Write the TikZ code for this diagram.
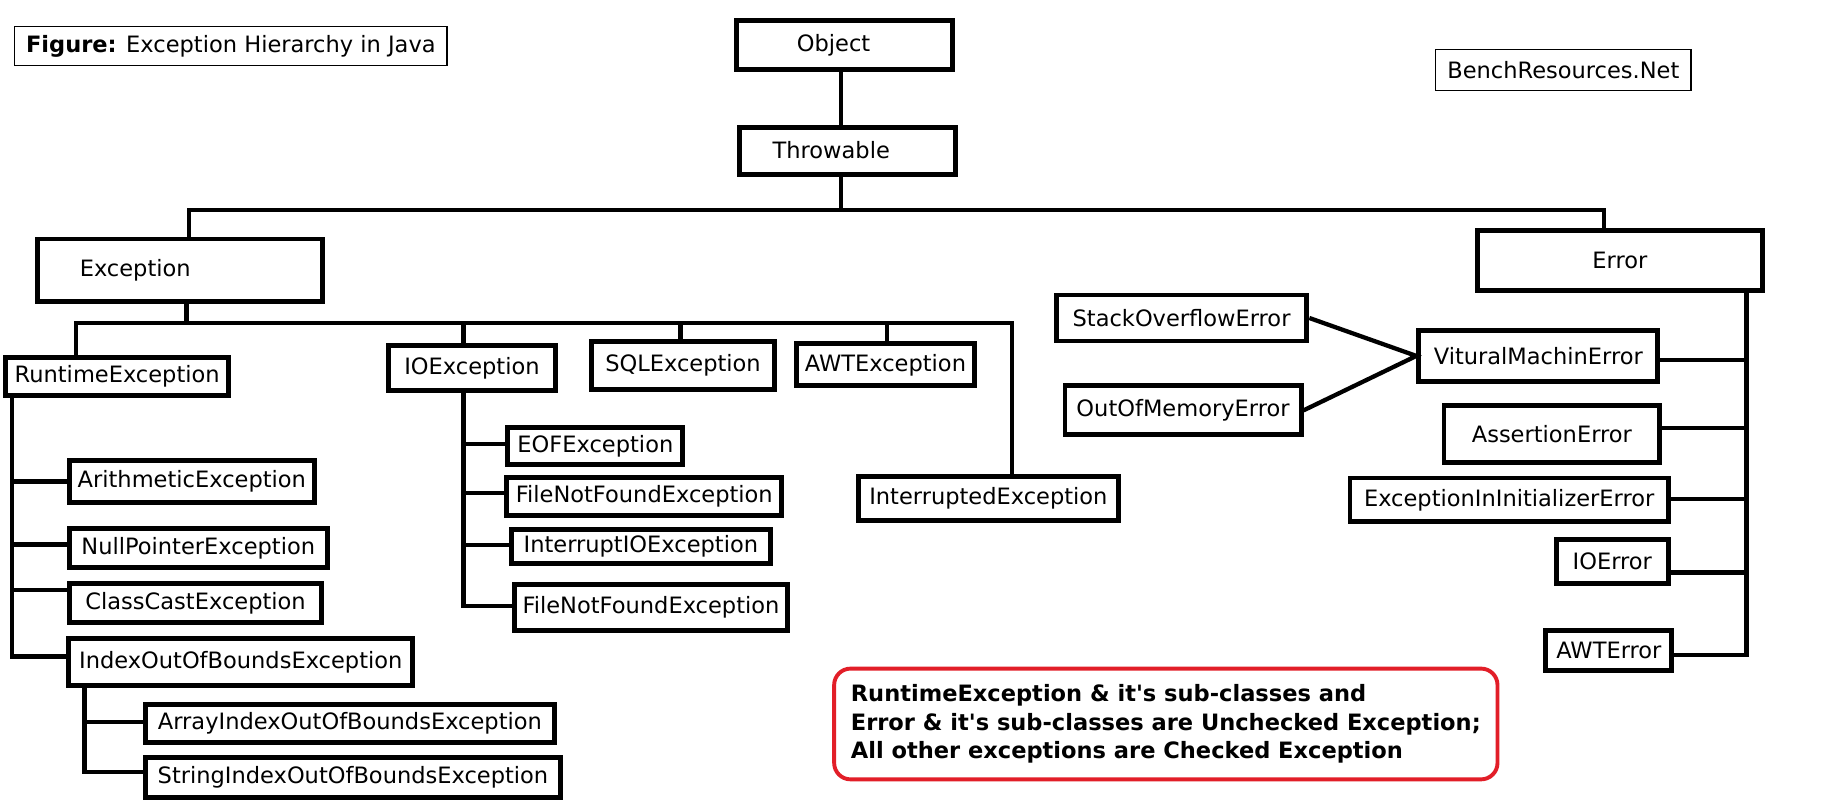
\documentclass[tikz,border=0pt]{standalone}
\usepackage{fontspec}
\setmainfont{DejaVu Sans}
\definecolor{noteRed}{RGB}{226,30,40}
\tikzset{
  box/.style={draw, line width=2.4pt, inner sep=0pt, font=\fontsize{11}{13}\selectfont},
  thinbox/.style={draw, line width=0.6pt, inner sep=0pt, font=\fontsize{11}{13}\selectfont},
  lbl/.style={inner sep=0pt, font=\fontsize{11}{13}\selectfont},
  conn/.style={line width=2.1pt},
  notebox/.style={draw=noteRed, line width=1.9pt, rounded corners=8pt, inner sep=0pt, align=left,
    font=\fontsize{11}{13.9}\selectfont\bfseries},
}
% name, x1, y1, x2, y2, text  (outer edges, image units)
\newcommand\bx[6]{\node[box, minimum width={(#4-#2-4)*0.02cm}, minimum height={(#5-#3-4)*0.02cm}] (#1) at ({(#2+#4)/2},{(#3+#5)/2}) {#6};}
\newcommand\tbx[6]{\node[thinbox, minimum width={(#4-#2-1)*0.02cm}, minimum height={(#5-#3-1)*0.02cm}] (#1) at ({(#2+#4)/2},{(#3+#5)/2}) {#6};}
\begin{document}
\begin{tikzpicture}[x=0.02cm, y=-0.02cm]
\fill[white] (0,0) rectangle (1568,687);
\useasboundingbox (0,0) rectangle (1568,687);

% captions
\tbx{fig}{12}{22}{384}{57}{\textbf{Figure:} Exception Hierarchy in Java}
\tbx{site}{1231}{42}{1451}{78}{BenchResources.Net}

% top
\bx{obj}{630}{15.7}{819}{61.5}{}
\node[lbl] (objT) at (715,39) {Object};
\bx{thr}{632.7}{107}{821.5}{151.6}{}
\node[lbl] (thrT) at (713,129) {Throwable};
\bx{exc}{30}{203}{279}{261}{}
\node[lbl] (excT) at (116,232) {Exception};
\bx{err}{1265}{195.5}{1514}{251.5}{Error}

% exception children
\bx{run}{3}{305}{198}{341}{RuntimeException}
\bx{ioe}{331}{294}{478.6}{337}{IOException}
\bx{sql}{505}{291}{666.7}{336}{SQLException}
\bx{awte}{681}{293}{838}{333}{AWTException}
\bx{intr}{734}{406.6}{961.6}{448.4}{InterruptedException}

% runtime children
\bx{ari}{57.5}{393}{271.6}{433}{ArithmeticException}
\bx{npe}{57.5}{451}{282.6}{489}{NullPointerException}
\bx{cce}{57.5}{498.5}{278}{536}{ClassCastException}
\bx{ind}{57}{546}{356}{590}{IndexOutOfBoundsException}
\bx{arr}{122.5}{602}{477.8}{639}{ArrayIndexOutOfBoundsException}
\bx{str}{122.5}{648}{483}{686}{StringIndexOutOfBoundsException}

% io children
\bx{eof}{433.7}{364.5}{587.7}{400.5}{EOFException}
\bx{fnfa}{432.5}{407.5}{672.7}{444}{FileNotFoundException}
\bx{iio}{436.7}{451.8}{662.7}{485}{InterruptIOException}
\bx{fnfb}{439}{499}{677.7}{543}{FileNotFoundException}

% error children
\bx{soe}{904}{251}{1123}{294.5}{StackOverflowError}
\bx{vm}{1215}{281.6}{1424}{329}{VituralMachinError}
\bx{oom}{911.5}{329}{1118}{375}{OutOfMemoryError}
\bx{ase}{1236.6}{346}{1425.7}{399}{AssertionError}
\bx{eiie}{1156}{408}{1433}{449.6}{ExceptionInInitializerError}
\bx{ioerr}{1333}{461}{1433}{502.6}{IOError}
\bx{awterr}{1324}{539}{1436}{577}{AWTError}

% note
\node[notebox, minimum width={(1286-714-3)*0.02cm}, minimum height={(672-574-3)*0.02cm}] (note) at (1000,621)
  {RuntimeException \& it\textquotesingle s sub-classes and\\Error \& it\textquotesingle s sub-classes are Unchecked Exception;\\All other exceptions are Checked Exception};

% bus coordinates
\coordinate (tm) at (721.5,180);
\coordinate (tl) at (162,180);
\coordinate (tr) at (1376,180);
\coordinate (eb) at (160,277);
\coordinate (e1) at (65,277);
\coordinate (e2) at (397.6,277);
\coordinate (e3) at (583.7,277);
\coordinate (e4) at (761,277);
\coordinate (e5) at (868,277);
\coordinate (rA) at (10,413);
\coordinate (rN) at (10,467);
\coordinate (rC) at (10,506);
\coordinate (rI) at (10,563);
\coordinate (iA) at (72.5,619);
\coordinate (iS) at (72.5,662);
\coordinate (oE) at (397.6,381);
\coordinate (oF) at (397.6,423);
\coordinate (oI) at (397.6,467.5);
\coordinate (oG) at (397.6,520);
\coordinate (xV) at (1498,309);
\coordinate (xA) at (1498,367);
\coordinate (xE) at (1498,428);
\coordinate (xI) at (1498,491);
\coordinate (xW) at (1498,562);

% connectors
\draw[conn] (obj.south -| tm) -- (thr.north -| tm);
\draw[conn] (thr.south -| tm) -- (tm);
\draw[conn] (exc.north -| tl) -- (tl) -- (tr) -- (err.north -| tr);
\draw[conn] (exc.south -| eb) -- (eb);
\draw[conn] (run.north -| e1) -- (e1) -- (e5) -- (intr.north -| e5);
\draw[conn] (ioe.north -| e2) -- (e2);
\draw[conn] (sql.north -| e3) -- (e3);
\draw[conn] (awte.north -| e4) -- (e4);

\draw[conn] (run.south -| rI) -- (rI) -- (ind.west |- rI);
\draw[conn] (rA) -- (ari.west |- rA);
\draw[conn] (rN) -- (npe.west |- rN);
\draw[conn] (rC) -- (cce.west |- rC);
\draw[conn] (ind.south -| iS) -- (iS) -- (str.west |- iS);
\draw[conn] (iA) -- (arr.west |- iA);

\draw[conn] (ioe.south -| oG) -- (oG) -- (fnfb.west |- oG);
\draw[conn] (oE) -- (eof.west |- oE);
\draw[conn] (oF) -- (fnfa.west |- oF);
\draw[conn] (oI) -- (iio.west |- oI);

\draw[conn] (soe.east) -- (vm.west) -- (oom.east);
\draw[conn] (err.south -| xW) -- (xW) -- (awterr.east |- xW);
\draw[conn] (xV) -- (vm.east |- xV);
\draw[conn] (xA) -- (ase.east |- xA);
\draw[conn] (xE) -- (eiie.east |- xE);
\draw[conn] (xI) -- (ioerr.east |- xI);
\end{tikzpicture}
\end{document}
